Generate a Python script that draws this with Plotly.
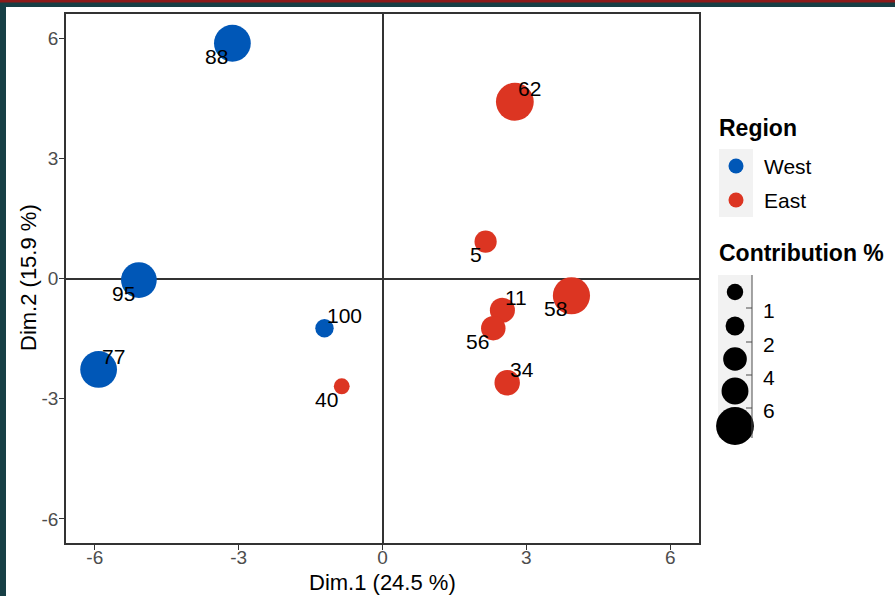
import plotly.graph_objects as go

# ---------------- data ----------------
labels = ["88", "62", "5", "95", "58", "11", "100", "56", "77", "34", "40"]
dim1 = [-3.13, 2.76, 2.15, -5.08, 3.94, 2.50, -1.21, 2.31, -5.92, 2.60, -0.85]
dim2 = [5.87, 4.41, 0.92, -0.04, -0.43, -0.79, -1.24, -1.24, -2.27, -2.60, -2.69]
region = ["West", "East", "East", "West", "East", "East", "West", "East", "West", "East", "East"]
contrib = [7.0, 7.4, 2.55, 6.6, 7.15, 3.25, 1.75, 3.1, 7.0, 3.35, 1.3]
regions = ["West", "East"]
size_key_values = [1.4, 1.85, 2.9, 3.75, 7.4]
size_key_labels = ["1", "2", "4", "6"]
x_ticks = [-6, -3, 0, 3, 6]
y_ticks = [-6, -3, 0, 3, 6]
x_title = "Dim.1 (24.5 %)"
y_title = "Dim.2 (15.9 %)"

# ---------------- styles ----------------
label_side = ["bl", "tr", "bl", "bl", "bl", "tr", "tr", "bl", "tr", "tr", "bl"]
colors = {"West": "#0057B7", "East": "#DC3522"}
FONT = "Liberation Sans, Arial, sans-serif"
W, H = 895, 596
ML, MR, MT, MB = 66, 0, 14, 53
PW, PH = W - ML - MR, H - MT - MB
PLOT_RIGHT = 699
SIZEREF = 1 / 9.83 ** 2


def px2x(px):
    return (px - ML) / PW


def px2y(py):
    return 1 - (py - MT) / PH


fig = go.Figure()

for r in regions:
    idx = [i for i, g in enumerate(region) if g == r]
    fig.add_trace(go.Scatter(
        x=[dim1[i] for i in idx], y=[dim2[i] for i in idx],
        mode="markers", name=r, showlegend=False,
        marker=dict(size=[contrib[i] for i in idx], sizemode="area", sizeref=SIZEREF,
                    color=colors[r], line=dict(width=0), opacity=1),
        xaxis="x", yaxis="y", hoverinfo="skip"))

annotations = []
for i, lab in enumerate(labels):
    if label_side[i] == "bl":
        annotations.append(dict(x=dim1[i], y=dim2[i], xref="x", yref="y", text=lab, showarrow=False,
                                xanchor="right", yanchor="middle", xshift=-2, yshift=-13,
                                font=dict(family=FONT, size=21, color="black")))
    else:
        annotations.append(dict(x=dim1[i], y=dim2[i], xref="x", yref="y", text=lab, showarrow=False,
                                xanchor="left", yanchor="middle", xshift=1, yshift=13,
                                font=dict(family=FONT, size=21, color="black")))

# axis titles
annotations.append(dict(x=px2x(382), y=px2y(582), xref="paper", yref="paper", text=x_title,
                        showarrow=False, xanchor="center", yanchor="middle",
                        font=dict(family=FONT, size=22, color="black")))
annotations.append(dict(x=px2x(28), y=px2y(278), xref="paper", yref="paper", text=y_title,
                        showarrow=False, xanchor="center", yanchor="middle", textangle=-90,
                        font=dict(family=FONT, size=22, color="black")))

# ---------------- legend (drawn on a pixel-scaled overlay axis) ----------------
shapes = []
# Region legend
annotations.append(dict(x=717, y=128, xref="x2", yref="y2", text="<b>Region</b>", showarrow=False,
                        xanchor="left", yanchor="middle", font=dict(family=FONT, size=23, color="black")))
shapes.append(dict(type="rect", xref="x2", yref="y2", x0=719, x1=753, y0=149, y1=217,
                   fillcolor="#F2F2F2", line=dict(width=0), layer="below"))
key_y = [166, 200]
for r, ky in zip(regions, key_y):
    fig.add_trace(go.Scatter(x=[736], y=[ky], mode="markers", showlegend=False, hoverinfo="skip",
                             marker=dict(size=15, color=colors[r], line=dict(width=0), opacity=1),
                             xaxis="x2", yaxis="y2"))
    annotations.append(dict(x=762, y=ky, xref="x2", yref="y2", text=r, showarrow=False,
                            xanchor="left", yanchor="middle", font=dict(family=FONT, size=21, color="black")))

# Contribution legend
annotations.append(dict(x=717, y=253, xref="x2", yref="y2", text="<b>Contribution %</b>", showarrow=False,
                        xanchor="left", yanchor="middle", font=dict(family=FONT, size=23, color="black")))
shapes.append(dict(type="rect", xref="x2", yref="y2", x0=718, x1=752, y0=275, y1=438,
                   fillcolor="#F2F2F2", line=dict(width=0), layer="below"))
shapes.append(dict(type="line", xref="x2", yref="y2", x0=752, x1=752, y0=275, y1=438,
                   line=dict(color="#4D4D4D", width=1)))
size_key_y = [292, 326, 359, 391, 426]
fig.add_trace(go.Scatter(x=[735] * len(size_key_values), y=size_key_y, mode="markers", showlegend=False,
                         hoverinfo="skip",
                         marker=dict(size=size_key_values, sizemode="area", sizeref=SIZEREF,
                                     color="black", line=dict(width=0), opacity=1),
                         xaxis="x2", yaxis="y2"))
tick_y = [308, 342, 375, 408]
for lab, ty in zip(size_key_labels, tick_y):
    shapes.append(dict(type="line", xref="x2", yref="y2", x0=746, x1=752, y0=ty, y1=ty,
                       line=dict(color="#4D4D4D", width=1)))
    annotations.append(dict(x=761, y=ty + 2.5, xref="x2", yref="y2", text=lab, showarrow=False,
                            xanchor="left", yanchor="middle", font=dict(family=FONT, size=21, color="black")))

# frame decoration (screenshot border)
shapes.append(dict(type="rect", xref="paper", yref="paper", x0=px2x(0), x1=px2x(6), y0=px2y(596), y1=px2y(0),
                   fillcolor="#173F45", line=dict(width=0), layer="above"))
shapes.append(dict(type="rect", xref="paper", yref="paper", x0=px2x(0), x1=px2x(W), y0=px2y(7), y1=px2y(0),
                   fillcolor="#173F45", line=dict(width=0), layer="above"))
shapes.append(dict(type="rect", xref="paper", yref="paper", x0=px2x(0), x1=px2x(W), y0=px2y(2.5), y1=px2y(0),
                   fillcolor="#8C1A1A", line=dict(width=0), layer="above"))

axis_common = dict(showgrid=False, zeroline=True, zerolinecolor="#333333", zerolinewidth=1.5,
                   showline=True, mirror=True, linecolor="#333333", linewidth=1.5,
                   ticks="outside", ticklen=5, tickwidth=1.2, tickcolor="#333333",
                   tickfont=dict(family=FONT, size=19, color="#4D4D4D"), fixedrange=True)

fig.update_layout(
    width=W, height=H,
    margin=dict(l=ML, r=MR, t=MT, b=MB, pad=0),
    paper_bgcolor="white", plot_bgcolor="white",
    xaxis=dict(domain=[0, (PLOT_RIGHT - ML) / PW], range=[-6.6, 6.6], tickvals=x_ticks,
               ticktext=[str(v) for v in x_ticks], anchor="y", ticklabelstandoff=-9, **axis_common),
    yaxis=dict(domain=[0, 1], range=[-6.6, 6.6], tickvals=y_ticks,
               ticktext=[str(v) for v in y_ticks], anchor="x", ticklabelstandoff=-3, **axis_common),
    xaxis2=dict(domain=[(PLOT_RIGHT - ML) / PW, 1], range=[PLOT_RIGHT, W], visible=False,
                anchor="y2", fixedrange=True),
    yaxis2=dict(domain=[0, 1], range=[MT + PH, MT], visible=False, anchor="x2", fixedrange=True),
    shapes=shapes, annotations=annotations, showlegend=False,
)

fig.write_html("out.html", config={"displayModeBar": False},
               post_script="document.body.style.margin='0';")
